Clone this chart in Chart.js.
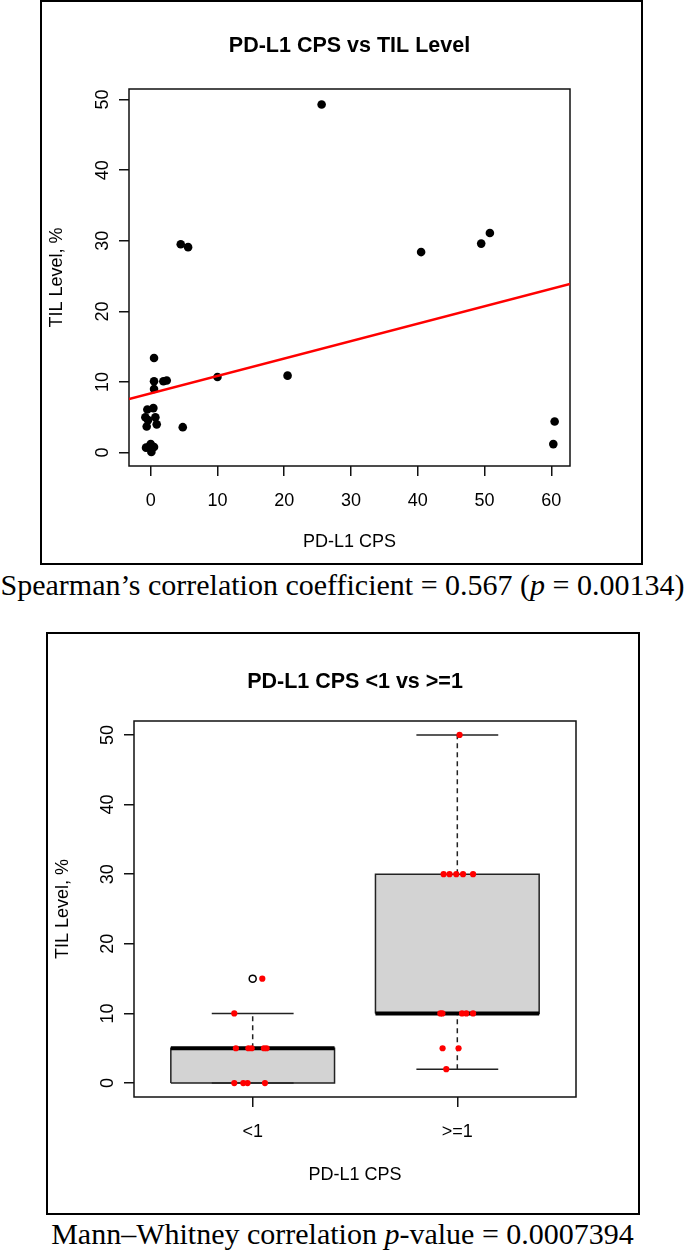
<!DOCTYPE html>
<html>
<head>
<meta charset="utf-8">
<script src="https://cdn.jsdelivr.net/npm/chart.js@4.4.1/dist/chart.umd.min.js"></script>
<style>
body { margin: 0; background: #fff; }
#page { position: relative; width: 685px; height: 1252px; overflow: hidden; background: #fff; }
.frame { position: absolute; border: 2px solid #000; }
canvas { display: block; }
.caption { position: absolute; left: 0; width: 685px; text-align: center; font-family: "Liberation Serif", "Times New Roman", serif; font-size: 30px; line-height: 34px; color: #000; white-space: nowrap; }
</style>
</head>
<body>
<div id="page">
  <div class="frame" style="left:40px;top:0px;width:599px;height:561px"><canvas id="scatterChart" width="599" height="561"></canvas></div>
  <div class="caption" style="top:568px">Spearman’s correlation coefficient = 0.567 (<i>p</i> = 0.00134)</div>
  <div class="frame" style="left:46px;top:632px;width:590px;height:579px"><canvas id="boxChart" width="590" height="579"></canvas></div>
  <div class="caption" style="top:1217px">Mann–Whitney correlation <i>p</i>-value = 0.0007394</div>
</div>
<script>
// top panel: PD-L1 CPS (jittered) vs TIL level
const cpsValues = [25.6, 4.5, 5.6, 40.5, 49.5, 50.8, 60.5, 60.3, 20.5, 10.0, 4.8,
  0.5, 0.5, 1.9, 2.4, 0.5, -0.5, 0.4, -0.8, 0.7, -0.6, 0.9, -0.4, -0.7, 0.0, 0.5, 0.1, -0.3];
const tilValues = [49.3, 29.5, 29.1, 28.4, 29.6, 31.1, 4.4, 1.2, 10.9, 10.7, 3.6,
  13.4, 10.1, 10.1, 10.2, 9.0, 6.1, 6.3, 5.0, 5.0, 3.7, 4.0, 4.6, 0.7, 1.2, 0.8, 0.1, 0.8];
const fitLineX = [-3.25, 62.8];
const fitLineY = [7.6, 23.9];
const cpsTicks = [0, 10, 20, 30, 40, 50, 60];
const tilTicks = [0, 10, 20, 30, 40, 50];

// bottom panel: boxplot by group
const groups = ['<1', '>=1'];
const q1 = [0, 10];
const medians = [5, 10];
const q3 = [5, 30];
const whiskerLow = [0, 2];
const whiskerHigh = [10, 50];
const outliers = [[15], []];
const lt1Pos = [1.047, 0.91, 0.918, 0.979, 0.995, 1.055, 1.068, 0.91, 0.954, 0.975, 1.06];
const lt1Til = [15, 10, 5, 5, 5, 5, 5, 0, 0, 0, 0];
const ge1Pos = [2.011, 1.933, 1.962, 1.995, 2.028, 2.077, 1.917, 1.927, 2.023, 2.044, 2.077, 1.928, 2.006, 1.946];
const ge1Til = [50, 30, 30, 30, 30, 30, 10, 10, 10, 10, 10, 5, 5, 2];
const boxTicks = [0, 10, 20, 30, 40, 50];

Chart.defaults.font.family = '"Liberation Sans", Arial, sans-serif';
Chart.defaults.color = '#000';

const plotBox = {
  id: 'plotBox',
  beforeDatasetsDraw(chart) {
    const { ctx, chartArea: a } = chart;
    ctx.save();
    ctx.strokeStyle = '#111';
    ctx.lineWidth = 1.5;
    ctx.strokeRect(a.left, a.top, a.right - a.left, a.bottom - a.top);
    ctx.restore();
  }
};

const tickGrid = { display: true, drawOnChartArea: false, drawTicks: true, tickLength: 10, color: '#111', lineWidth: 1.5 };

function xy(xs, ys) {
  return xs.map((x, i) => ({ x: x, y: ys[i] }));
}

function makeScales(o) {
  return {
    x: {
      type: 'linear', min: o.xMin, max: o.xMax,
      afterBuildTicks: s => { s.ticks = o.xTicks.map(v => ({ value: v })); },
      afterFit: s => { s.height = o.xHeight; },
      grid: tickGrid,
      border: { display: false },
      ticks: { padding: 14, font: { size: 18 }, callback: o.xLabel },
      title: { display: true, text: 'PD-L1 CPS', font: { size: 18 }, padding: { top: 0, bottom: 0 } }
    },
    xt: {
      type: 'linear', position: 'top',
      afterFit: s => { s.height = 87; },
      grid: { display: false }, border: { display: false },
      ticks: { display: false },
      title: { display: true, text: o.title, font: { size: 21.5, weight: 'bold' }, padding: { top: o.titlePad, bottom: 0 } }
    },
    y: {
      type: 'linear', min: o.yMin, max: o.yMax,
      afterBuildTicks: s => { s.ticks = o.yTicks.map(v => ({ value: v })); },
      afterFit: s => { s.width = o.yWidth; },
      grid: tickGrid,
      border: { display: false },
      ticks: { minRotation: 90, maxRotation: 90, crossAlign: 'center', padding: 6, font: { size: 18 } },
      title: { display: true, text: 'TIL Level, %', font: { size: 18 }, padding: { top: 4, bottom: 0 } }
    }
  };
}

new Chart('scatterChart', {
  type: 'scatter',
  data: {
    datasets: [{
      data: xy(fitLineX, fitLineY),
      showLine: true, borderColor: '#ff0000', borderWidth: 2.5, pointRadius: 0
    }, {
      data: xy(cpsValues, tilValues),
      backgroundColor: '#000', borderColor: '#000', pointRadius: 4.3, borderWidth: 0
    }]
  },
  options: {
    responsive: false, animation: false,
    layout: { padding: { left: 0, right: 71, top: 0, bottom: 10 } },
    plugins: { legend: { display: false }, tooltip: { enabled: false } },
    scales: makeScales({
      xMin: -3.25, xMax: 62.8, xTicks: cpsTicks, xHeight: 87,
      yMin: -1.9, yMax: 51.5, yTicks: tilTicks, yWidth: 87,
      title: 'PD-L1 CPS vs TIL Level', titlePad: 31
    })
  },
  plugins: [plotBox]
});

const boxSets = [];
groups.forEach((g, i) => {
  const c = i + 1, l = c - 0.4, r = c + 0.4;
  boxSets.push({ data: [{ x: l, y: q3[i] }, { x: r, y: q3[i] }], fill: { value: q1[i] },
    backgroundColor: '#d3d3d3', borderWidth: 0, pointRadius: 0, order: 5 });
  boxSets.push({ data: [{ x: l, y: q1[i] }, { x: r, y: q1[i] }, { x: r, y: q3[i] }, { x: l, y: q3[i] }, { x: l, y: q1[i] }],
    borderColor: '#222', borderWidth: 1.5, pointRadius: 0, order: 3 });
  boxSets.push({ data: [{ x: l, y: medians[i] }, { x: r, y: medians[i] }],
    borderColor: '#000', borderWidth: 4, pointRadius: 0, order: 2 });
  boxSets.push({ data: [{ x: c, y: q3[i] }, { x: c, y: whiskerHigh[i] }],
    borderColor: '#222', borderWidth: 1.5, borderDash: [5, 4], pointRadius: 0, order: 4 });
  boxSets.push({ data: [{ x: c, y: whiskerLow[i] }, { x: c, y: q1[i] }],
    borderColor: '#222', borderWidth: 1.5, borderDash: [5, 4], pointRadius: 0, order: 4 });
  boxSets.push({ data: [{ x: c - 0.2, y: whiskerHigh[i] }, { x: c + 0.2, y: whiskerHigh[i] }],
    borderColor: '#222', borderWidth: 1.5, pointRadius: 0, order: 4 });
  boxSets.push({ data: [{ x: c - 0.2, y: whiskerLow[i] }, { x: c + 0.2, y: whiskerLow[i] }],
    borderColor: '#222', borderWidth: 1.5, pointRadius: 0, order: 4 });
  boxSets.push({ data: outliers[i].map(v => ({ x: c, y: v })), showLine: false,
    pointRadius: 3.5, borderColor: '#000', borderWidth: 1.5, backgroundColor: '#fff', order: 1 });
});
boxSets.push({ data: xy(lt1Pos, lt1Til), showLine: false, pointRadius: 3.1, borderWidth: 0, backgroundColor: '#ff0000', order: 0 });
boxSets.push({ data: xy(ge1Pos, ge1Til), showLine: false, pointRadius: 3.1, borderWidth: 0, backgroundColor: '#ff0000', order: 0 });

new Chart('boxChart', {
  type: 'line',
  data: { datasets: boxSets },
  options: {
    responsive: false, animation: false,
    elements: { line: { tension: 0 } },
    layout: { padding: { left: 0, right: 62, top: 0, bottom: 27 } },
    plugins: { legend: { display: false }, tooltip: { enabled: false } },
    scales: makeScales({
      xMin: 0.42, xMax: 2.58, xTicks: [1, 2], xHeight: 89, xLabel: v => groups[v - 1],
      yMin: -2, yMax: 52, yTicks: boxTicks, yWidth: 86,
      title: 'PD-L1 CPS <1 vs >=1', titlePad: 35
    })
  },
  plugins: [plotBox]
});
</script>
</body>
</html>
